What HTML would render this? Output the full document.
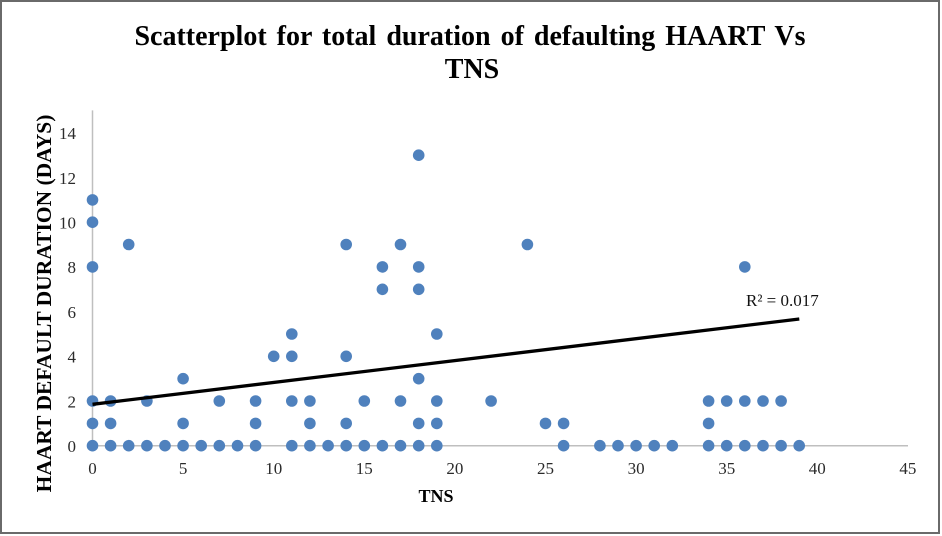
<!DOCTYPE html>
<html><head><meta charset="utf-8"><style>
html,body{margin:0;padding:0;background:#fff;}
svg{display:block;}
</style></head><body>
<svg width="942" height="536" viewBox="0 0 942 536" xmlns="http://www.w3.org/2000/svg">
<rect x="0" y="0" width="942" height="536" fill="#fff"/>
<rect x="1" y="1" width="938" height="532" fill="#fff" stroke="#6a6a6a" stroke-width="2"/>
<g font-family="Liberation Serif, serif" font-weight="bold" fill="#000">
<text x="470" y="45" font-size="28" text-anchor="middle" word-spacing="3">Scatterplot for total duration of defaulting HAART Vs</text>
<text x="472" y="78" font-size="28" text-anchor="middle">TNS</text>
<text x="436" y="502" font-size="18" text-anchor="middle">TNS</text>
<text transform="translate(51,303.5) rotate(-90)" font-size="21.5" text-anchor="middle">HAART DEFAULT DURATION (DAYS)</text>
</g>
<g stroke="#bfbfbf" stroke-width="1.5">
<line x1="92.5" y1="110.4" x2="92.5" y2="445.7"/>
<line x1="92.5" y1="445.7" x2="908" y2="445.7"/>
</g>
<g font-family="Liberation Serif, serif" font-size="17" fill="#2a2a2a" text-anchor="end">
<text x="76" y="452">0</text>
<text x="76" y="407.3">2</text>
<text x="76" y="362.6">4</text>
<text x="76" y="317.9">6</text>
<text x="76" y="273.2">8</text>
<text x="76" y="228.5">10</text>
<text x="76" y="183.8">12</text>
<text x="76" y="139.1">14</text>
</g>
<g font-family="Liberation Serif, serif" font-size="17" fill="#2a2a2a" text-anchor="middle">
<text x="92.5" y="474">0</text>
<text x="183.1" y="474">5</text>
<text x="273.7" y="474">10</text>
<text x="364.3" y="474">15</text>
<text x="454.9" y="474">20</text>
<text x="545.5" y="474">25</text>
<text x="636.1" y="474">30</text>
<text x="726.7" y="474">35</text>
<text x="817.3" y="474">40</text>
<text x="907.9" y="474">45</text>
</g>
<g fill="#4f81bd">
<circle cx="92.5" cy="199.9" r="5.8"/><circle cx="92.5" cy="222.2" r="5.8"/><circle cx="92.5" cy="266.9" r="5.8"/><circle cx="92.5" cy="401" r="5.8"/><circle cx="92.5" cy="423.4" r="5.8"/><circle cx="92.5" cy="445.7" r="5.8"/>
<circle cx="110.6" cy="401" r="5.8"/><circle cx="110.6" cy="423.4" r="5.8"/><circle cx="110.6" cy="445.7" r="5.8"/>
<circle cx="128.7" cy="244.5" r="5.8"/><circle cx="128.7" cy="445.7" r="5.8"/>
<circle cx="146.9" cy="401" r="5.8"/><circle cx="146.9" cy="445.7" r="5.8"/>
<circle cx="165" cy="445.7" r="5.8"/>
<circle cx="183.1" cy="378.7" r="5.8"/><circle cx="183.1" cy="423.4" r="5.8"/><circle cx="183.1" cy="445.7" r="5.8"/>
<circle cx="201.2" cy="445.7" r="5.8"/>
<circle cx="219.3" cy="401" r="5.8"/><circle cx="219.3" cy="445.7" r="5.8"/>
<circle cx="237.5" cy="445.7" r="5.8"/>
<circle cx="255.6" cy="401" r="5.8"/><circle cx="255.6" cy="423.4" r="5.8"/><circle cx="255.6" cy="445.7" r="5.8"/>
<circle cx="273.7" cy="356.3" r="5.8"/>
<circle cx="291.8" cy="334" r="5.8"/><circle cx="291.8" cy="356.3" r="5.8"/><circle cx="291.8" cy="401" r="5.8"/><circle cx="291.8" cy="445.7" r="5.8"/>
<circle cx="309.9" cy="401" r="5.8"/><circle cx="309.9" cy="423.4" r="5.8"/><circle cx="309.9" cy="445.7" r="5.8"/>
<circle cx="328.1" cy="445.7" r="5.8"/>
<circle cx="346.2" cy="244.5" r="5.8"/><circle cx="346.2" cy="356.3" r="5.8"/><circle cx="346.2" cy="423.4" r="5.8"/><circle cx="346.2" cy="445.7" r="5.8"/>
<circle cx="364.3" cy="401" r="5.8"/><circle cx="364.3" cy="445.7" r="5.8"/>
<circle cx="382.4" cy="266.9" r="5.8"/><circle cx="382.4" cy="289.3" r="5.8"/><circle cx="382.4" cy="445.7" r="5.8"/>
<circle cx="400.5" cy="244.5" r="5.8"/><circle cx="400.5" cy="401" r="5.8"/><circle cx="400.5" cy="445.7" r="5.8"/>
<circle cx="418.7" cy="155.2" r="5.8"/><circle cx="418.7" cy="266.9" r="5.8"/><circle cx="418.7" cy="289.3" r="5.8"/><circle cx="418.7" cy="378.7" r="5.8"/><circle cx="418.7" cy="423.4" r="5.8"/><circle cx="418.7" cy="445.7" r="5.8"/>
<circle cx="436.8" cy="334" r="5.8"/><circle cx="436.8" cy="401" r="5.8"/><circle cx="436.8" cy="423.4" r="5.8"/><circle cx="436.8" cy="445.7" r="5.8"/>
<circle cx="491.1" cy="401" r="5.8"/>
<circle cx="527.4" cy="244.5" r="5.8"/>
<circle cx="545.5" cy="423.4" r="5.8"/>
<circle cx="563.6" cy="423.4" r="5.8"/><circle cx="563.6" cy="445.7" r="5.8"/>
<circle cx="599.9" cy="445.7" r="5.8"/><circle cx="618" cy="445.7" r="5.8"/><circle cx="636.1" cy="445.7" r="5.8"/><circle cx="654.2" cy="445.7" r="5.8"/><circle cx="672.3" cy="445.7" r="5.8"/>
<circle cx="708.6" cy="401" r="5.8"/><circle cx="708.6" cy="423.4" r="5.8"/><circle cx="708.6" cy="445.7" r="5.8"/>
<circle cx="726.7" cy="401" r="5.8"/><circle cx="726.7" cy="445.7" r="5.8"/>
<circle cx="744.8" cy="266.9" r="5.8"/><circle cx="744.8" cy="401" r="5.8"/><circle cx="744.8" cy="445.7" r="5.8"/>
<circle cx="763" cy="401" r="5.8"/><circle cx="763" cy="445.7" r="5.8"/>
<circle cx="781.1" cy="401" r="5.8"/><circle cx="781.1" cy="445.7" r="5.8"/>
<circle cx="799.2" cy="445.7" r="5.8"/>
</g>
<line x1="92.5" y1="404.3" x2="799.3" y2="319" stroke="#000" stroke-width="3.3"/>
<text x="746" y="306" font-family="Liberation Serif, serif" font-size="17" fill="#111">R² = 0.017</text>
</svg>
</body></html>
